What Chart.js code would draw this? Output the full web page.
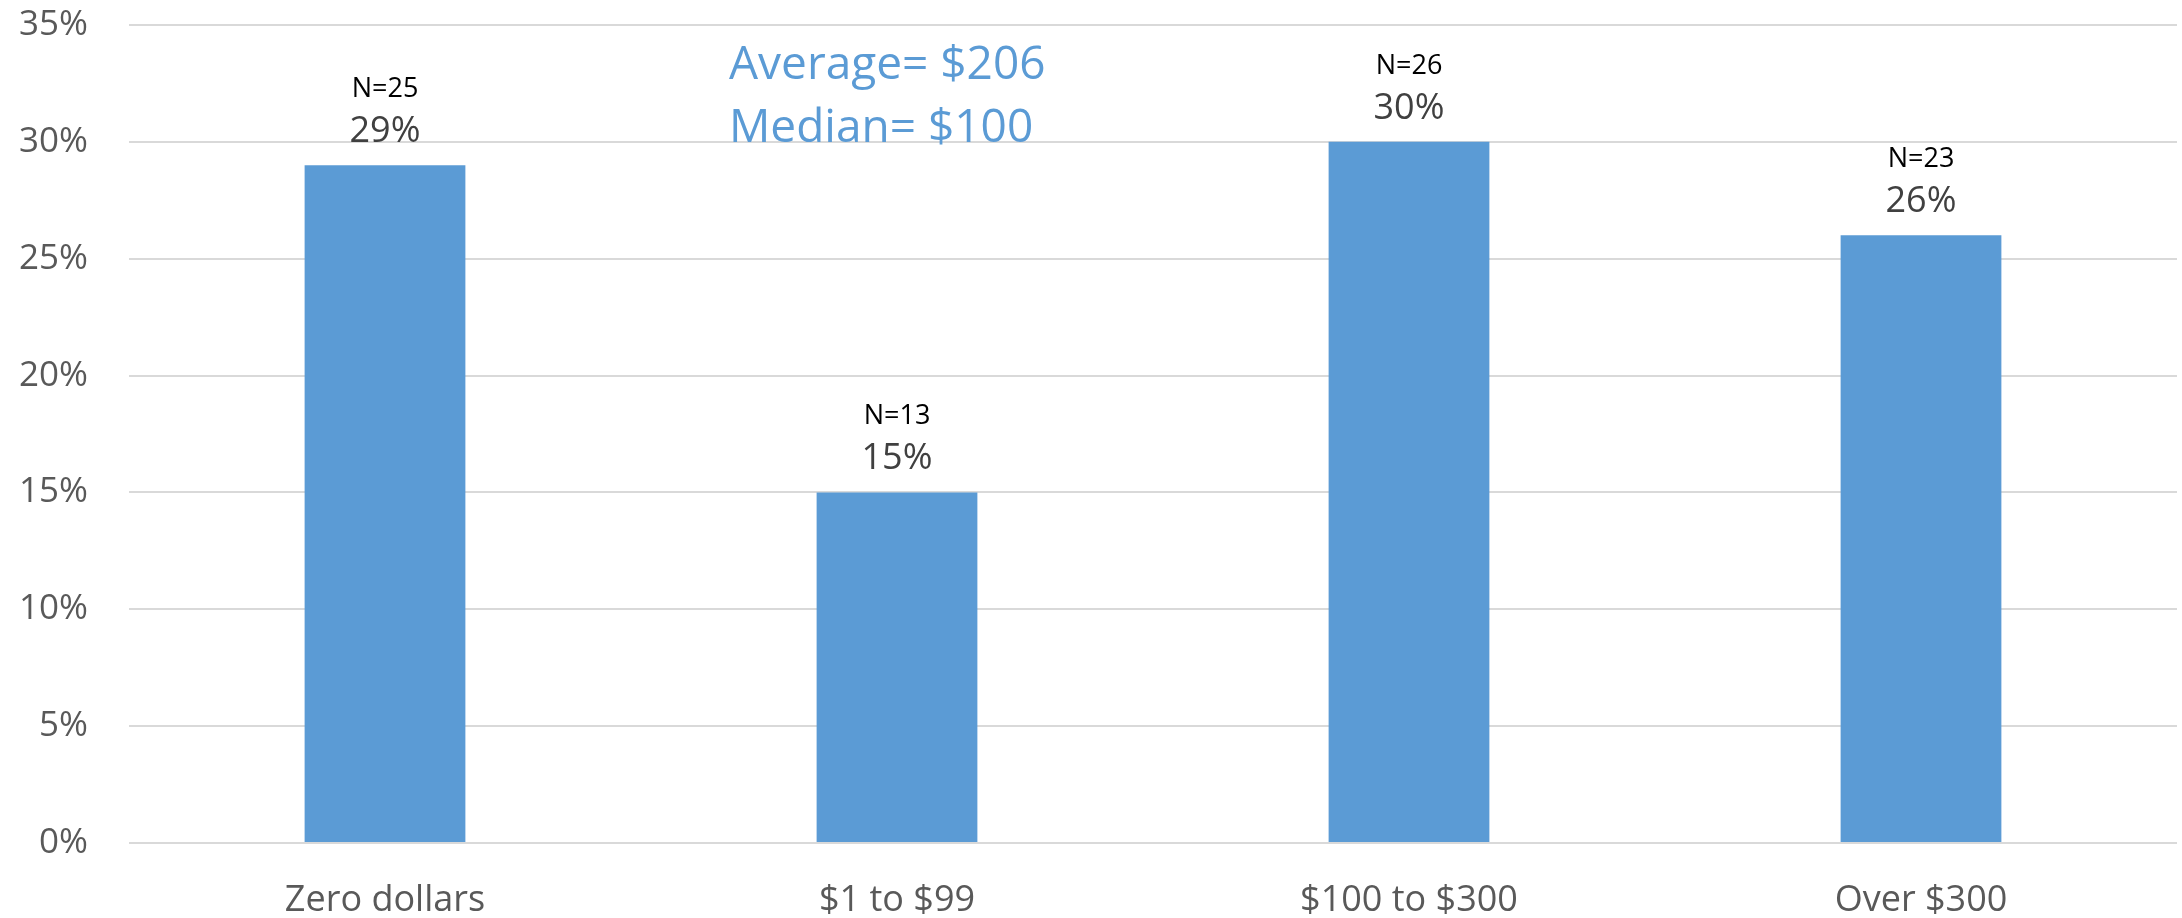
<!DOCTYPE html>
<html>
<head>
<meta charset="utf-8">
<title>Spending distribution</title>
<script src="https://cdn.jsdelivr.net/npm/chart.js@4"></script>
<style>
  html, body { margin: 0; padding: 0; background: #fff; }
  #wrap { width: 2182px; height: 918px; }
</style>
</head>
<body>
<div id="wrap"><canvas id="spendChart" width="2182" height="918"></canvas></div>
<script>
const categories = ['Zero dollars', '$1 to $99', '$100 to $300', 'Over $300'];
const shares = [29, 15, 30, 26];      // percent of respondents
const counts = [25, 13, 26, 23];      // N per group
const summaryLines = ['Average= $206', 'Median= $100'];

const barBlue = '#5B9BD5';
const fontFamily = "'Open Sans', 'DejaVu Sans', sans-serif";

// N=.. and percent labels above each bar, plus the average/median note
const barLabels = {
    id: 'barLabels',
    afterDatasetsDraw(chart) {
        const { ctx, chartArea } = chart;
        const bars = chart.getDatasetMeta(0).data;
        ctx.save();
        ctx.textAlign = 'center';
        ctx.textBaseline = 'alphabetic';
        bars.forEach((bar, i) => {
            ctx.fillStyle = '#404040';
            ctx.font = '36px ' + fontFamily;
            ctx.fillText(shares[i] + '%', bar.x, bar.y - 23);
            ctx.fillStyle = '#000000';
            ctx.font = '27px ' + fontFamily;
            ctx.fillText('N=' + counts[i], bar.x, bar.y - 68);
        });
        // summary note
        ctx.textAlign = 'left';
        ctx.fillStyle = barBlue;
        ctx.font = '46px ' + fontFamily;
        summaryLines.forEach((line, i) => {
            ctx.fillText(line, chartArea.left + 600, chartArea.top + 54 + i * 63);
        });
        ctx.restore();
    }
};

new Chart(document.getElementById('spendChart'), {
    type: 'bar',
    data: {
        labels: categories,
        datasets: [{
            data: shares,
            backgroundColor: barBlue,
            borderWidth: 0,
            barPercentage: 0.314,
            categoryPercentage: 1
        }]
    },
    options: {
        responsive: false,
        animation: false,
        layout: { padding: { top: 25, right: 5, left: 0, bottom: 0 } },
        plugins: {
            legend: { display: false },
            tooltip: { enabled: false }
        },
        scales: {
            y: {
                min: 0,
                max: 35,
                ticks: {
                    stepSize: 5,
                    padding: 41,
                    color: '#595959',
                    font: { family: fontFamily, size: 35 },
                    callback: (value) => value + '%'
                },
                grid: { color: '#d9d9d9', lineWidth: 2, drawTicks: false },
                border: { display: false },
                afterFit: (scale) => {
                    scale.width = 129;
                    scale.paddingTop = 0;
                    scale.paddingBottom = 0;
                }
            },
            x: {
                ticks: {
                    padding: 36,
                    color: '#595959',
                    font: { family: fontFamily, size: 36 }
                },
                grid: { display: false, drawTicks: false },
                border: { display: false },
                afterFit: (scale) => {
                    scale.height = 75;
                    scale.paddingLeft = 0;
                    scale.paddingRight = 0;
                }
            }
        }
    },
    plugins: [barLabels]
});
</script>
</body>
</html>
